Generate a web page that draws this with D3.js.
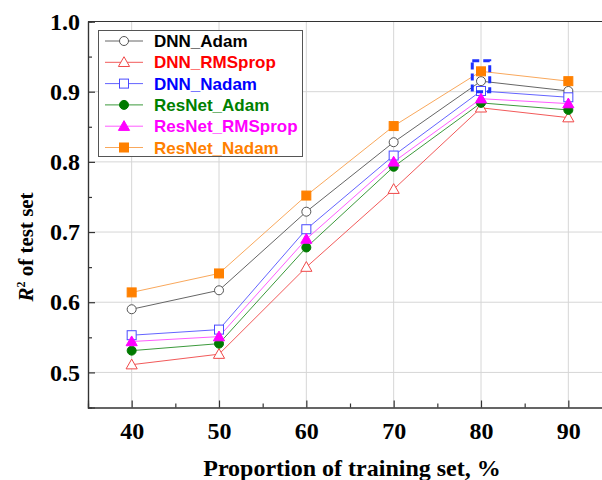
<!DOCTYPE html>
<html>
<head>
<meta charset="utf-8">
<script src="https://cdn.jsdelivr.net/npm/d3@7"></script>
<style>
  body { margin: 0; background: #fff; overflow: hidden; }
  svg { display: block; }
</style>
</head>
<body>
<script>
const proportions = [40, 50, 60, 70, 80, 90];
const dnnAdam = [0.590, 0.617, 0.729, 0.828, 0.915, 0.901];
const dnnRmsprop = [0.511, 0.526, 0.650, 0.761, 0.877, 0.863];
const dnnNadam = [0.553, 0.561, 0.704, 0.809, 0.901, 0.892];
const resnetAdam = [0.531, 0.541, 0.678, 0.793, 0.884, 0.874];
const resnetRmsprop = [0.544, 0.551, 0.690, 0.800, 0.890, 0.883];
const resnetNadam = [0.614, 0.641, 0.752, 0.851, 0.929, 0.915];
const xTicks = [40, 50, 60, 70, 80, 90];
const yTicks = [0.5, 0.6, 0.7, 0.8, 0.9, 1.0];

const series = [
  {name: "DNN_Adam", values: dnnAdam, line: "#666", text: "#000", shape: "circle", filled: false, mark: "#555"},
  {name: "DNN_RMSprop", values: dnnRmsprop, line: "#f25a5a", text: "#ff0000", shape: "triangle", filled: false, mark: "#f04848"},
  {name: "DNN_Nadam", values: dnnNadam, line: "#6464ff", text: "#0000ff", shape: "square", filled: false, mark: "#4a4aff"},
  {name: "ResNet_Adam", values: resnetAdam, line: "#3c9a3c", text: "#008000", shape: "circle", filled: true, mark: "#007a00"},
  {name: "ResNet_RMSprop", values: resnetRmsprop, line: "#ff5cff", text: "#ff00ff", shape: "triangle", filled: true, mark: "#ff00ff"},
  {name: "ResNet_Nadam", values: resnetNadam, line: "#f9a85c", text: "#ff8000", shape: "square", filled: true, mark: "#ff8000"}
];

const w = 602, h = 480;
const plotLeft = 88, plotTop = 21.5, plotBottom = 407.5, plotRight = 612;

const svg = d3.select("body").append("svg")
  .attr("width", w)
  .attr("height", h);

const xScale = d3.scaleLinear().domain([35, 95]).range([plotLeft, plotRight]);
const yScale = d3.scaleLinear().domain([0.45, 1.0]).range([plotBottom, plotTop]);

// grid
svg.append("g")
  .selectAll("line")
  .data(xTicks)
  .enter().append("line")
  .attr("x1", d => xScale(d)).attr("x2", d => xScale(d))
  .attr("y1", plotTop).attr("y2", plotBottom)
  .attr("stroke", "#d6d6d6").attr("stroke-width", 1);

svg.append("g")
  .selectAll("line")
  .data(yTicks.filter(d => d < 1))
  .enter().append("line")
  .attr("x1", plotLeft).attr("x2", plotRight)
  .attr("y1", d => yScale(d)).attr("y2", d => yScale(d))
  .attr("stroke", "#d6d6d6").attr("stroke-width", 1);

// top edge of the frame (right edge is cut off in the original)
svg.append("line")
  .attr("x1", plotLeft).attr("x2", plotRight)
  .attr("y1", plotTop).attr("y2", plotTop)
  .attr("stroke", "#333").attr("stroke-width", 1.2);

// axes, ticks pointing inward
const xAxis = d3.axisBottom(xScale).tickValues(xTicks).tickSize(-7).tickPadding(14).tickFormat(d3.format("d"));
const yAxis = d3.axisLeft(yScale).tickValues(yTicks).tickSize(-7).tickPadding(8).tickFormat(d3.format(".1f"));

const gx = svg.append("g")
  .attr("transform", "translate(0," + plotBottom + ")")
  .call(xAxis);
const gy = svg.append("g")
  .attr("transform", "translate(" + plotLeft + ",0)")
  .call(yAxis);

// minor ticks
const gxm = svg.append("g")
  .attr("transform", "translate(0," + plotBottom + ")")
  .call(d3.axisBottom(xScale).tickValues([45, 55, 65, 75, 85]).tickSize(-4).tickFormat(""));
const gym = svg.append("g")
  .attr("transform", "translate(" + plotLeft + ",0)")
  .call(d3.axisLeft(yScale).tickValues([0.55, 0.65, 0.75, 0.85, 0.95]).tickSize(-4).tickFormat(""));

[gx, gy, gxm, gym].forEach(g => {
  g.select(".domain").attr("stroke", "#333").attr("stroke-width", 1.2);
  g.selectAll(".tick line").attr("stroke", "#333").attr("stroke-width", 1.2);
  g.selectAll("text")
    .attr("font-family", "'Liberation Serif', 'Times New Roman', serif")
    .attr("font-weight", "bold")
    .attr("font-size", 24)
    .attr("fill", "#000");
});

// axis titles
svg.append("text")
  .attr("x", 352)
  .attr("y", 476)
  .attr("text-anchor", "middle")
  .attr("font-family", "'Liberation Serif', 'Times New Roman', serif")
  .attr("font-weight", "bold")
  .attr("font-size", 24)
  .text("Proportion of training set, %");

const yt = svg.append("text")
  .attr("transform", "translate(33,247) rotate(-90)")
  .attr("text-anchor", "middle")
  .attr("font-family", "'Liberation Serif', 'Times New Roman', serif")
  .attr("font-weight", "bold")
  .attr("font-size", 21);
yt.append("tspan").attr("font-style", "italic").text("R");
yt.append("tspan").attr("font-size", 12).attr("dy", -8).text("2");
yt.append("tspan").attr("dy", 8).text(" of test set");

// markers
function drawMarker(g, s, cx, cy, size) {
  const fill = s.filled ? s.mark : "#fff";
  if (s.shape === "circle") {
    g.append("circle").attr("cx", cx).attr("cy", cy).attr("r", size / 2)
      .attr("fill", fill).attr("stroke", s.mark).attr("stroke-width", 1);
  } else if (s.shape === "square") {
    g.append("rect").attr("x", cx - size / 2).attr("y", cy - size / 2)
      .attr("width", size).attr("height", size)
      .attr("fill", fill).attr("stroke", s.mark).attr("stroke-width", 1);
  } else {
    const r = size * 0.62;
    g.append("path")
      .attr("d", `M${cx},${cy - r} L${cx + r},${cy + r * 0.75} L${cx - r},${cy + r * 0.75} Z`)
      .attr("fill", fill).attr("stroke", s.mark).attr("stroke-width", 1);
  }
}

const line = d3.line()
  .x((d, i) => xScale(proportions[i]))
  .y(d => yScale(d));

series.forEach(s => {
  svg.append("path")
    .datum(s.values)
    .attr("d", line)
    .attr("fill", "none")
    .attr("stroke", s.line)
    .attr("stroke-width", 1);
});
series.forEach(s => {
  const g = svg.append("g");
  s.values.forEach((v, i) => drawMarker(g, s, xScale(proportions[i]), yScale(v), 9));
});

// highlight box around the 80% points
svg.append("rect")
  .attr("x", xScale(79))
  .attr("y", yScale(0.944))
  .attr("width", xScale(81) - xScale(79))
  .attr("height", yScale(0.90) - yScale(0.944))
  .attr("fill", "none")
  .attr("stroke", "#1e32ff")
  .attr("stroke-width", 3)
  .attr("stroke-dasharray", "7,4");

// legend
const legend = svg.append("g");
legend.append("rect")
  .attr("x", 98.5).attr("y", 30.5)
  .attr("width", 204).attr("height", 126)
  .attr("fill", "#fff").attr("stroke", "#555").attr("stroke-width", 1);

series.forEach((s, i) => {
  const y = 41 + i * 21.3;
  legend.append("line")
    .attr("x1", 105).attr("x2", 143)
    .attr("y1", y).attr("y2", y)
    .attr("stroke", s.line).attr("stroke-width", 1);
  drawMarker(legend, s, 124, y, 9);
  legend.append("text")
    .attr("x", 154).attr("y", y + 6)
    .attr("font-family", "'Liberation Sans', Arial, sans-serif")
    .attr("font-weight", "bold")
    .attr("font-size", 17)
    .attr("fill", s.text)
    .text(s.name);
});
</script>
</body>
</html>
